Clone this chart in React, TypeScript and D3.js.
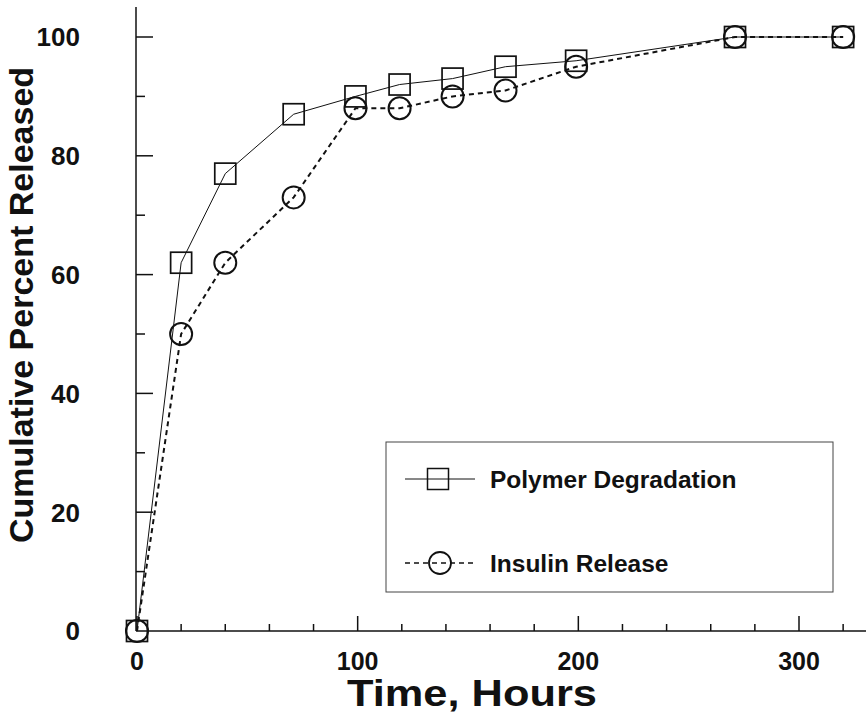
import React from 'react';
import * as d3 from 'd3';

const hours = [0, 20, 40, 71, 99, 119, 143, 167, 199, 271, 320];
const polymerDegradation = [0, 62, 77, 87, 90, 92, 93, 95, 96, 100, 100];
const insulinRelease = [0, 50, 62, 73, 88, 88, 90, 91, 95, 100, 100];
const xTickLabels = [0, 100, 200, 300];
const yTickLabels = [0, 20, 40, 60, 80, 100];
const seriesNames = ['Polymer Degradation', 'Insulin Release'];
const xTitle = 'Time, Hours';
const yTitle = 'Cumulative Percent Released';

const FONT = "'Liberation Sans', Arial, Helvetica, sans-serif";
const INK = '#111';

export default function App() {
  const W = 866;
  const H = 722;
  const x = d3.scaleLinear().domain([0, 300]).range([137, 799]);
  const y = d3.scaleLinear().domain([0, 100]).range([631, 37]);
  const line = d3
    .line<[number, number]>()
    .x((d) => x(d[0]))
    .y((d) => y(d[1]));

  const polyPts: [number, number][] = hours.map((h, i) => [h, polymerDegradation[i]]);
  const insPts: [number, number][] = hours.map((h, i) => [h, insulinRelease[i]]);

  const xMinor = d3.range(0, 321, 20);
  const yMinor = d3.range(10, 101, 10);
  const sq = 21;
  const r = 11;

  const axisX0 = x(0) - 1;
  const legend = { x0: 386, y0: 442, x1: 833, y1: 592 };
  const legRows = [479, 563];

  return (
    <svg
      width={W}
      height={H}
      style={{ position: 'absolute', left: 0, top: 0, background: '#fff' }}
    >
      <rect x={0} y={0} width={W} height={H} fill="#fff" />
      {/* axes */}
      <line x1={axisX0} x2={866} y1={y(0)} y2={y(0)} stroke={INK} strokeWidth={1.5} />
      <line x1={axisX0} x2={axisX0} y1={y(0)} y2={7} stroke={INK} strokeWidth={1.5} />
      {xMinor.map((t) => (
        <line
          key={'xt' + t}
          x1={x(t)}
          x2={x(t)}
          y1={y(0)}
          y2={y(0) - (t % 100 === 0 ? 15 : 7)}
          stroke={INK}
          strokeWidth={1.5}
        />
      ))}
      {yMinor.map((t) => (
        <line
          key={'yt' + t}
          x1={axisX0}
          x2={axisX0 + (t % 20 === 0 ? 17 : 9)}
          y1={y(t)}
          y2={y(t)}
          stroke={INK}
          strokeWidth={1.5}
        />
      ))}
      {xTickLabels.map((t) => (
        <text
          key={'xl' + t}
          x={x(t)}
          y={670}
          textAnchor="middle"
          fontFamily={FONT}
          fontWeight="bold"
          fontSize={25}
          fill={INK}
        >
          {t}
        </text>
      ))}
      {yTickLabels.map((t) => (
        <text
          key={'yl' + t}
          x={80}
          y={y(t)}
          dy="0.36em"
          textAnchor="end"
          fontFamily={FONT}
          fontWeight="bold"
          fontSize={26}
          fill={INK}
        >
          {t}
        </text>
      ))}
      <text
        x={472}
        y={706}
        textAnchor="middle"
        fontFamily={FONT}
        fontWeight="bold"
        fontSize={36}
        textLength={250}
        lengthAdjust="spacingAndGlyphs"
        fill={INK}
      >
        {xTitle}
      </text>
      <text
        transform={`translate(33,305) rotate(-90)`}
        textAnchor="middle"
        fontFamily={FONT}
        fontWeight="bold"
        fontSize={34}
        fill={INK}
      >
        {yTitle}
      </text>

      {/* series lines */}
      <path d={line(polyPts) || ''} fill="none" stroke={INK} strokeWidth={1} />
      <path
        d={line(insPts) || ''}
        fill="none"
        stroke={INK}
        strokeWidth={2}
        strokeDasharray="5,4"
      />
      {/* markers */}
      {polyPts.map((p, i) => (
        <rect
          key={'s' + i}
          x={x(p[0]) - sq / 2}
          y={y(p[1]) - sq / 2}
          width={sq}
          height={sq}
          fill="none"
          stroke={INK}
          strokeWidth={1.7}
        />
      ))}
      {insPts.map((p, i) => (
        <circle
          key={'c' + i}
          cx={x(p[0])}
          cy={y(p[1])}
          r={r}
          fill="none"
          stroke={INK}
          strokeWidth={2}
        />
      ))}

      {/* legend */}
      <rect
        x={legend.x0}
        y={legend.y0}
        width={legend.x1 - legend.x0}
        height={legend.y1 - legend.y0}
        fill="none"
        stroke="#444"
        strokeWidth={1}
      />
      <line x1={405} x2={475} y1={legRows[0]} y2={legRows[0]} stroke={INK} strokeWidth={1} />
      <rect
        x={438 - sq / 2}
        y={legRows[0] - sq / 2}
        width={sq}
        height={sq}
        fill="none"
        stroke={INK}
        strokeWidth={1.5}
      />
      <line
        x1={405}
        x2={475}
        y1={legRows[1]}
        y2={legRows[1]}
        stroke={INK}
        strokeWidth={1.6}
        strokeDasharray="5,4"
      />
      <circle cx={440} cy={legRows[1]} r={r} fill="none" stroke={INK} strokeWidth={1.8} />
      {seriesNames.map((n, i) => (
        <text
          key={n}
          x={490}
          y={legRows[i]}
          dy="0.36em"
          fontFamily={FONT}
          fontWeight="bold"
          fontSize={24.5}
          fill={INK}
        >
          {n}
        </text>
      ))}
    </svg>
  );
}
